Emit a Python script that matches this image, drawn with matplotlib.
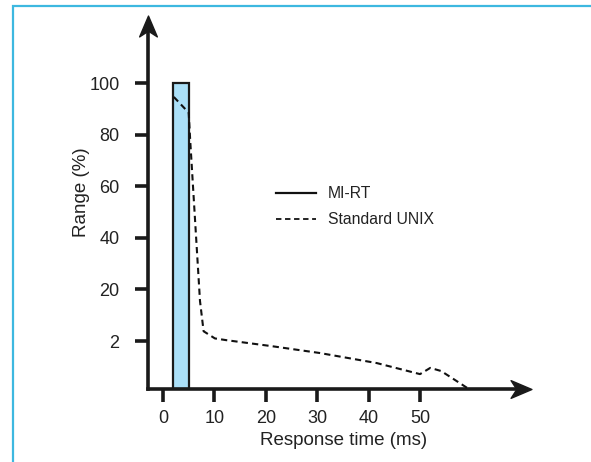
import numpy as np
import matplotlib
matplotlib.use("Agg")
import matplotlib.pyplot as plt
from matplotlib.patches import Rectangle
from matplotlib.path import Path

plt.rcParams['font.family'] = ['Liberation Sans', 'DejaVu Sans']

# ---- data ----
x_ticks = [0, 10, 20, 30, 40, 50]
y_ticks = [2, 20, 40, 60, 80, 100]

# MI-RT: one block between 2 and 5 ms reaching 100 %
mirt_left = 2
mirt_right = 5
mirt_height = 100

# Standard UNIX curve
unix_x = [2.1, 5.0, 5.3, 6.4, 7.2, 7.9, 10.1, 12.3, 21.0, 30.5, 41.6, 50.0, 52.0, 54.1, 56.2, 59.5]
unix_y = [94.6, 88.5, 77.5, 41.5, 15.9, 5.4, 2.9, 2.3, 1.79, 1.5, 1.08, 0.62, 0.88, 0.75, 0.46, 0.0]

# ---- piecewise y scale (2 sits one step below 20) ----
knots_val = [0, 2, 20, 200]
knots_pos = [0, 0.93, 1.93, 10.93]

def fwd(v):
    return np.interp(v, knots_val, knots_pos)

def inv(p):
    return np.interp(p, knots_pos, knots_val)

# stealth style arrow heads
def stealth(angle):
    verts = np.array([[1, 0], [-1, 0.85], [-0.45, 0], [-1, -0.85], [1, 0]])
    c, s = np.cos(angle), np.sin(angle)
    verts = verts @ np.array([[c, s], [-s, c]])
    return Path(verts, [Path.MOVETO, Path.LINETO, Path.LINETO, Path.LINETO, Path.CLOSEPOLY])

ax_left, ax_right, ax_top, ax_bot = 148, 521, 26, 389
px_per_10 = 51.4

fig = plt.figure(figsize=(5.91, 4.62), dpi=100)
ax = fig.add_axes([ax_left/591, 1 - ax_bot/462, (ax_right-ax_left)/591, (ax_bot-ax_top)/462])
ax.set_yscale('function', functions=(fwd, inv))

ax.bar((mirt_left + mirt_right)/2, mirt_height, width=mirt_right - mirt_left,
       color='#abe0f8', edgecolor='#1a1a1a', linewidth=1.6, zorder=2)
ax.plot(unix_x, unix_y, color='#111111', lw=1.5, ls=(0, (3, 2)), zorder=3)

ax.set_xlim((ax_left-163)/px_per_10*10, (ax_right-163)/px_per_10*10)
ax.set_ylim(0, inv((389-ax_top)/51.6))

ax.set_xticks(x_ticks)
ax.set_yticks(y_ticks)
ax.set_yticklabels([str(v) for v in y_ticks])
ax.minorticks_off()
ax.tick_params(axis='both', direction='out', width=2.6, color='#1a1a1a',
               labelsize=13, labelcolor='#222222')
ax.tick_params(axis='y', length=9.5, pad=11)
ax.tick_params(axis='x', length=9, pad=6)

for s in ['top', 'right']:
    ax.spines[s].set_visible(False)
for s in ['left', 'bottom']:
    ax.spines[s].set_linewidth(2.6)
    ax.spines[s].set_color('#1a1a1a')

# arrow heads
ax.plot([1], [0], marker=stealth(0), markersize=15, color='#1a1a1a',
        transform=ax.transAxes, clip_on=False, zorder=5)
ax.plot([0], [1], marker=stealth(np.pi/2), markersize=15, color='#1a1a1a',
        transform=ax.transAxes, clip_on=False, zorder=5)

ax.set_xlabel('Response time (ms)', fontsize=13.5, color='#222222')
ax.xaxis.set_label_coords((344-ax_left)/(ax_right-ax_left), (ax_bot-432)/(ax_bot-ax_top))
ax.xaxis.label.set_va('top')
fig.text(81/591, 1 - 192/462, 'Range (%)', rotation=90, ha='center', va='center',
         fontsize=13.5, color='#222222')

# legend drawn by hand to match layout
leg_x0, leg_x1 = 276/591, 316/591
fig.lines.append(plt.Line2D([leg_x0, leg_x1], [1-193/462, 1-193/462], color='#111111',
                            lw=1.6, transform=fig.transFigure))
fig.lines.append(plt.Line2D([leg_x0, leg_x1], [1-219/462, 1-219/462], color='#111111',
                            lw=1.3, ls=(0, (3, 2)), transform=fig.transFigure))
fig.text(328/591, 1-193/462, 'MI-RT', ha='left', va='center', fontsize=11.3, color='#222222')
fig.text(328/591, 1-219/462, 'Standard UNIX', ha='left', va='center', fontsize=11.3, color='#222222')

# cyan frame around the panel
fig.patches.append(Rectangle((12.5/591, -0.05), 1.2, 1.05 - 6/462, transform=fig.transFigure,
                             fill=False, edgecolor='#3db8e0', lw=1.6))

fig.savefig('out.png', dpi=100)
